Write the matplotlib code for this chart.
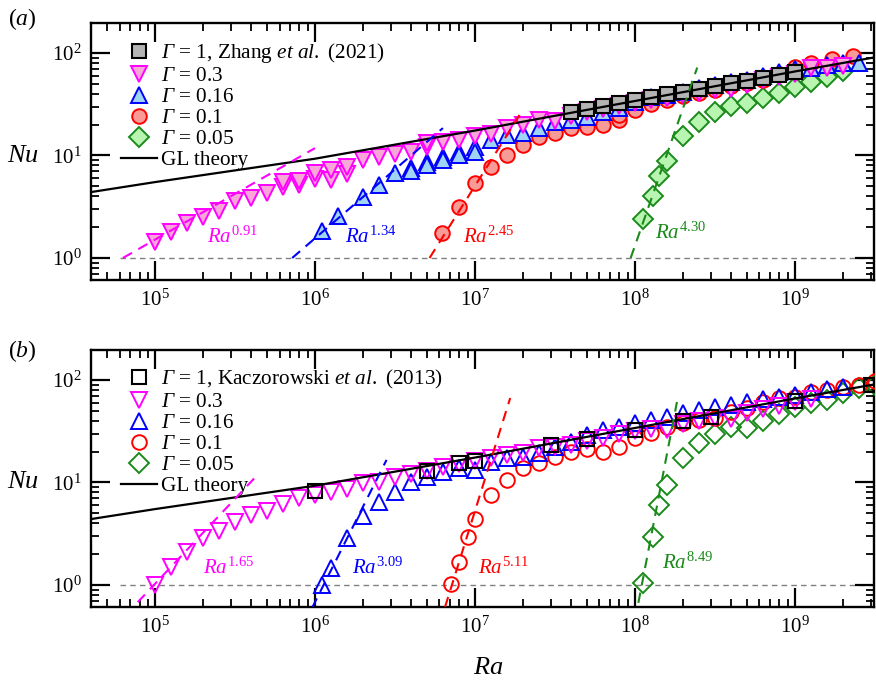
import matplotlib
matplotlib.use("Agg")
import matplotlib.pyplot as plt
from matplotlib.lines import Line2D

plt.rcParams['font.family'] = ['Liberation Serif', 'DejaVu Serif']
# custom math fonts: Times-like, with \mathsf used for the italic capital Gamma
plt.rcParams['mathtext.fontset'] = 'custom'
plt.rcParams['mathtext.rm'] = 'Liberation Serif'
plt.rcParams['mathtext.it'] = 'Liberation Serif:italic'
plt.rcParams['mathtext.bf'] = 'Liberation Serif:bold'
plt.rcParams['mathtext.sf'] = 'Liberation Serif:italic'

# ---------------- data ----------------
# GL theory curve (same in both panels)
gl_ra = [4e4, 1e5, 1e6, 1e7, 1e8, 1e9, 3.2e9]
gl_nu = [4.4, 5.5, 9.3, 17.5, 34, 66, 91]

# panel (a): Zhang et al. (2021) + DNS
zhang_ra = [4e7, 5e7, 6.3e7, 8e7, 1e8, 1.26e8, 1.58e8, 2e8, 2.5e8, 3.16e8, 4e8, 5e8, 6.3e8, 8e8, 1e9]
zhang_nu = [26.5, 28.5, 30.3, 32.5, 34.8, 37.2, 39.5, 42, 44.7, 47.5, 50.5, 53.5, 57, 61, 65]

ra03a = [1e5, 1.26e5, 1.58e5, 2e5, 2.5e5, 3.16e5, 4e5, 5e5, 6.3e5, 6.3e5, 8e5, 8e5, 1e6, 1e6,
         1.26e6, 1.26e6, 1.58e6, 1.58e6, 2e6, 2.5e6, 3.16e6, 4e6, 5e6, 5e6, 6.3e6, 8e6, 1e7,
         1.26e7, 1.58e7, 2e7, 2.5e7, 3.16e7, 4e7, 5e7, 6.3e7, 8e7, 1e8, 1.26e8, 1.58e8, 2e8,
         2.5e8, 3.16e8, 4e8, 5e8, 6.3e8, 8e8, 1e9, 1.26e9, 1.58e9, 2e9]
nu03a = [1.43, 1.79, 2.19, 2.51, 2.87, 3.6, 3.85, 4.3, 4.9, 5.5, 5.2, 5.6, 5.9, 6.7,
         5.75, 7.2, 6.6, 7.7, 9.0, 9.7, 10.3, 10.8, 12.2, 13.2, 13.5, 14.3, 15.5,
         16.2, 18.5, 19.8, 22.2, 21.5, 24.5, 26.5, 28.5, 30.5, 32.5, 35, 36, 38.5,
         41, 44, 45, 49, 54, 58, 62, 72, 72, 75]

ra016a = [1.1e6, 1.4e6, 2e6, 2.5e6, 3.16e6, 4e6, 4e6, 5e6, 5e6, 6.3e6, 6.3e6, 8e6, 8e6, 1e7, 1e7,
          1.26e7, 1.58e7, 2e7, 2.5e7, 3.16e7, 4e7, 5e7, 6.3e7, 8e7, 1e8, 1.26e8, 1.58e8, 2e8,
          2.5e8, 3.16e8, 4e8, 5e8, 6.3e8, 8e8, 1e9, 1.26e9, 1.58e9, 2e9, 2.5e9]
nu016a = [1.83, 2.57, 3.94, 5.15, 6.75, 7.5, 7.0, 8.6, 8.1, 9.6, 9.0, 10.8, 10.1, 12.1, 10.8,
          14.1, 15.8, 16.6, 18.5, 21.2, 22.2, 23.7, 26.6, 29, 33, 37, 39, 42,
          46, 49, 52, 55, 60, 65, 69, 72, 76, 79, 80]

ra01a = [6.2e6, 8e6, 1e7, 1.26e7, 1.58e7, 2e7, 2.5e7, 3.16e7, 4e7, 5e7, 6.3e7, 8e7, 8e7, 1e8,
         1.26e8, 1.58e8, 2e8, 2.5e8, 3.16e8, 4e8, 5e8, 6.3e8, 8e8, 1e9, 1.26e9, 1.7e9, 2.3e9]
nu01a = [1.75, 3.15, 5.4, 7.7, 10.1, 12.7, 15.1, 16.6, 18.5, 19.0, 19.8, 22.2, 25, 27.8,
         32, 34.8, 38, 41, 44, 48, 51, 55, 62, 73, 80, 88, 93]

ra005a = [1.12e8, 1.29e8, 1.42e8, 1.58e8, 2e8, 2.5e8, 3.16e8, 4e8, 5e8, 6.3e8, 8e8, 1e9, 1.26e9, 1.58e9, 2e9]
nu005a = [2.4, 4.0, 6.3, 8.8, 15.5, 21.2, 26.6, 30.5, 32.5, 36.4, 40.7, 46.6, 52, 58, 66.5]

# power-law fits in (a): end points and exponents
fit_ra_a = [(6.3e4, 1e6), (7.2e5, 6.3e6), (5.2e6, 1.9e7), (9.4e7, 2.45e8)]
fit_nu_a = [(1.0, 11.8), (1.0, 18.5), (1.0, 24.8), (1.0, 72)]
fit_lab_a = ['0.91', '1.34', '2.45', '4.30']
lab_pos_a = [(2.1e5, 1.6), (1.55e6, 1.6), (8.4e6, 1.6), (1.33e8, 1.75)]

# panel (b): Kaczorowski et al. (2013) + DNS
kacz_ra = [1e6, 5e6, 8e6, 1e7, 3e7, 5e7, 1e8, 2e8, 3e8, 1e9, 3e9]
kacz_nu = [8.3, 13, 15.5, 16.2, 23.3, 26.6, 32.7, 39.8, 43.5, 62.6, 89]

ra03b = [1e5, 1.26e5, 1.58e5, 2e5, 2.5e5, 3.16e5, 4e5, 5e5, 6.3e5, 8e5,
         1e6, 1.26e6, 1.58e6, 2e6, 2.5e6, 3.16e6, 4e6, 5e6, 6.3e6, 8e6,
         1e7, 1.26e7, 1.58e7, 2e7, 2.5e7, 3.16e7, 4e7, 5e7, 6.3e7, 8e7,
         1e8, 1.26e8, 1.58e8, 2e8, 2.5e8, 3.16e8, 4e8, 5e8, 6.3e8, 8e8, 1e9, 1.26e9]
nu03b = [1.0, 1.5, 2.1, 2.85, 3.4, 4.1, 4.8, 5.3, 6.1, 7.0,
         7.5, 8.1, 8.6, 9.8, 10.1, 11.2, 12.2, 13.0, 14.0, 15.3,
         16.2, 17.5, 18.7, 19.5, 21.5, 22.4, 23.4, 25.3, 27.3, 29.5,
         31.5, 33.5, 32.5, 37.5, 40, 42.5, 42, 48, 52, 56, 61, 65]

ra016b = [1.1e6, 1.26e6, 1.58e6, 2e6, 2.5e6, 3.16e6, 4e6, 5e6, 6.3e6, 8e6,
          1e7, 1.26e7, 1.58e7, 2e7, 2.5e7, 3.16e7, 4e7, 5e7, 6.3e7, 8e7,
          1e8, 1.26e8, 1.58e8, 2e8, 2.5e8, 3.16e8, 4e8, 5e8, 6.3e8, 8e8,
          1e9, 1.26e9, 1.58e9, 2e9]
nu016b = [1.0, 1.47, 2.9, 4.7, 6.4, 8.1, 10.0, 11.3, 12.6, 13.9,
          13.2, 15.9, 17.3, 17.6, 19.3, 22.2, 24.8, 29, 32.5, 34.8,
          38, 41, 44, 47.5, 51, 54, 57.5, 61, 65, 68,
          72, 77, 81, 85]

ra01b = [7.1e6, 8e6, 9.1e6, 1e7, 1.26e7, 1.58e7, 2e7, 2.5e7, 3.16e7, 4e7, 5e7, 6.3e7, 8e7,
         1e8, 1.26e8, 1.58e8, 2e8, 2.5e8, 3.16e8, 4e8, 5e8, 6.3e8, 8e8,
         1e9, 1.26e9, 1.58e9, 2e9, 2.5e9, 3.16e9]
nu01b = [1.02, 1.68, 2.94, 4.4, 7.55, 10.6, 13.8, 15.5, 17.7, 19.8, 21.2, 19.8, 22.2,
         27, 30.5, 34.8, 38, 40.7, 42.5, 48.7, 53, 61, 66.5,
         68, 76, 80, 85, 89, 97]

ra005b = [1.12e8, 1.29e8, 1.42e8, 1.58e8, 2e8, 2.5e8, 3.16e8, 4e8, 5e8, 6.3e8, 8e8, 1e9,
          1.26e9, 1.58e9, 2e9, 2.5e9, 3.16e9]
nu005b = [1.05, 2.94, 6.0, 9.4, 17.5, 24.3, 30, 34.8, 34, 40, 47, 55, 60, 63.5, 75, 83, 90]

fit_ra_b = [(7.8e4, 4.2e5), (9.6e5, 2.8e6), (6.5e6, 1.66e7), (1.05e8, 1.83e8)]
fit_nu_b = [(0.68, 11.1), (0.6, 16.6), (0.61, 66.7), (0.67, 61)]
fit_lab_b = ['1.65', '3.09', '5.11', '8.49']
lab_pos_b = [(2.0e5, 1.47), (1.7e6, 1.47), (1.05e7, 1.47), (1.48e8, 1.64)]

# ---------------- styling ----------------
MAG, BLU, RED, GRN = '#ff00ff', '#0000ff', '#ff0000', '#1a8a1a'
fills = {'mag': '#f9a6d9', 'blu': '#9fd4f5', 'red': '#f89a96', 'grn': '#b8f5b0', 'gray': '#b4b4b4'}
fit_cols = [MAG, BLU, RED, GRN]
G = r'$\mathsf{\Gamma}$'

xlim = (3.98e4, 3.12e9)
ylim = (0.61, 196)

fig = plt.figure(figsize=(8.76, 6.81), dpi=100)
ax_a = fig.add_axes([91 / 876, 1 - 280 / 681, 783 / 876, 257 / 681])
ax_b = fig.add_axes([91 / 876, 1 - 607 / 681, 783 / 876, 257 / 681])


def style_axes(ax):
    ax.set_xscale('log')
    ax.set_yscale('log')
    ax.set_xlim(*xlim)
    ax.set_ylim(*ylim)
    ax.tick_params(which='both', direction='in', top=True, right=True, labelsize=15)
    ax.tick_params(which='major', length=14, width=1.6, pad=7)
    ax.tick_params(which='minor', length=6, width=1.3)
    for s in ax.spines.values():
        s.set_linewidth(1.7)


def draw_panel(ax, filled, ref_ra, ref_nu, ref_label, series, fit_ra, fit_nu, fit_lab, lab_pos):
    ax.plot([6e4, 3.2e9], [1, 1], ls=(0, (4, 3)), color='#808080', lw=1.0, zorder=1)
    styles = [('v', MAG, 'mag', 12, G + ' = 0.3'),
              ('^', BLU, 'blu', 12, G + ' = 0.16'),
              ('o', RED, 'red', 10.5, G + ' = 0.1'),
              ('D', GRN, 'grn', 10.5, G + ' = 0.05')]
    for i in [3, 2, 1, 0]:
        m, ec, fk, ms, lab = styles[i]
        ra, nu = series[i]
        ax.plot(ra, nu, ls='none', marker=m, ms=ms, mec=ec, mew=1.4,
                mfc=fills[fk] if filled else 'none', zorder=3 + (3 - i))
    ax.plot(ref_ra, ref_nu, ls='none', marker='s', ms=10, mec='k', mew=1.5,
            mfc=fills['gray'] if filled else 'none', zorder=8)
    ax.plot(gl_ra, gl_nu, color='k', lw=1.6, zorder=9)
    for (r0, r1), (n0, n1), c in zip(fit_ra, fit_nu, fit_cols):
        ax.plot([r0, r1], [n0, n1], ls=(0, (5, 3.5)), color=c, lw=1.5, zorder=10)
    for (px, py), e, c in zip(lab_pos, fit_lab, fit_cols):
        ax.text(px, py, r'$Ra^{%s}$' % e, color=c, fontsize=15, ha='left', va='center')

    handles = [Line2D([], [], ls='none', marker='s', ms=10, mec='k', mew=1.5,
                      mfc=fills['gray'] if filled else 'none', label=ref_label)]
    for m, ec, fk, ms, lab in styles:
        handles.append(Line2D([], [], ls='none', marker=m, ms=ms, mec=ec, mew=1.4,
                              mfc=fills[fk] if filled else 'none', label=lab))
    handles.append(Line2D([], [], color='k', lw=1.6, label='GL theory'))
    ax.legend(handles=handles, loc='upper left', bbox_to_anchor=(0.027, 0.962), frameon=False,
              fontsize=15.3, handlelength=1.7, handletextpad=0.2, labelspacing=0.05,
              borderaxespad=0.0)
    style_axes(ax)


draw_panel(ax_a, True, zhang_ra, zhang_nu,
           G + r' = 1, Zhang $\mathit{et\ al.}$ (2021)',
           [(ra03a, nu03a), (ra016a, nu016a), (ra01a, nu01a), (ra005a, nu005a)],
           fit_ra_a, fit_nu_a, fit_lab_a, lab_pos_a)
draw_panel(ax_b, False, kacz_ra, kacz_nu,
           G + r' = 1, Kaczorowski $\mathit{et\ al.}$ (2013)',
           [(ra03b, nu03b), (ra016b, nu016b), (ra01b, nu01b), (ra005b, nu005b)],
           fit_ra_b, fit_nu_b, fit_lab_b, lab_pos_b)

fig.text(22 / 876, 1 - 19 / 681, r'($\mathit{a}$)', fontsize=17, ha='center', va='center')
fig.text(22 / 876, 1 - 351 / 681, r'($\mathit{b}$)', fontsize=17, ha='center', va='center')
fig.text(23 / 876, 1 - 156 / 681, r'$Nu$', fontsize=19, ha='center', va='center')
fig.text(23 / 876, 1 - 482 / 681, r'$Nu$', fontsize=19, ha='center', va='center')
fig.text(488 / 876, 1 - 668 / 681, r'$Ra$', fontsize=19, ha='center', va='center')

fig.savefig('out.png', dpi=100)
